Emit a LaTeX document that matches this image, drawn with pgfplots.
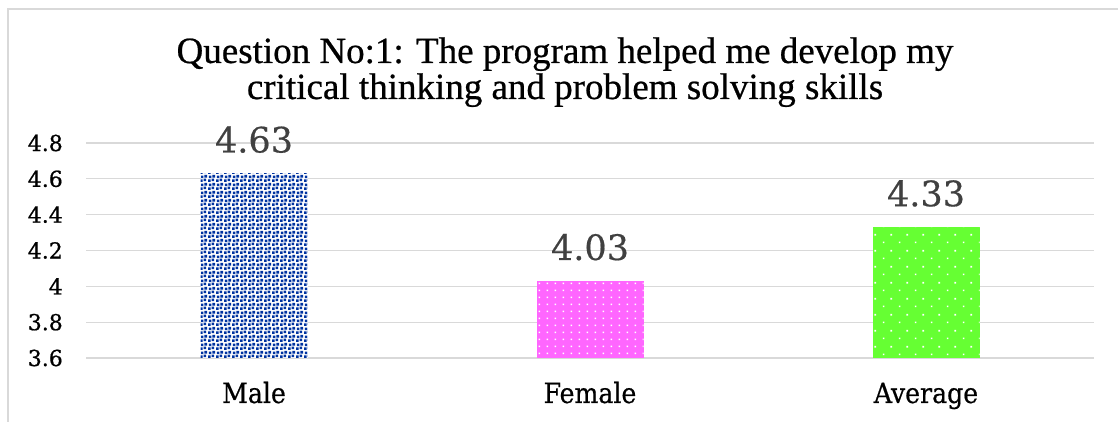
\documentclass[border=0pt]{standalone}
\usepackage{fontspec}
\setmainfont{DejaVu Serif}
\newfontfamily\titlefont[FakeBold=0.6]{Liberation Serif}
\newfontfamily\condfont[FakeBold=0.6]{DejaVu Serif Condensed}
\newfontfamily\tickfont[FakeBold=0.8]{DejaVu Serif}
\newfontfamily\datafont[FakeBold=0.5]{DejaVu Serif}
\usepackage{pgfplots}
\pgfplotsset{compat=1.18}
\usetikzlibrary{patterns.meta}
\definecolor{gridgray}{HTML}{D9D9D9}
\definecolor{maleblue}{HTML}{0033A0}
\definecolor{femmag}{HTML}{FF66FF}
\definecolor{avggreen}{HTML}{66FF33}
\definecolor{labgray}{HTML}{404040}
\tikzdeclarepattern{name=bluesq, type=uncolored,
  bounding box={(0pt,0pt) and (8pt,8pt)}, tile size={(8pt,8pt)},
  code={
    \fill (0pt,0pt) rectangle (2.9pt,2.9pt);
    \fill (4pt,1pt) rectangle (6.9pt,3.9pt);
    \fill (1pt,4.2pt) rectangle (3.9pt,7.1pt);
    \fill (5pt,5pt) rectangle (7.9pt,7.9pt);
  }}
\tikzdeclarepattern{name=magdots, type=uncolored,
  bounding box={(0pt,0pt) and (8pt,7.3pt)}, tile size={(8pt,7.3pt)},
  code={\fill (3pt,3pt) rectangle (4.7pt,4.7pt);}}
\tikzdeclarepattern{name=grndots, type=uncolored,
  bounding box={(0pt,0pt) and (16pt,16pt)}, tile size={(16pt,16pt)},
  code={\fill (3pt,3pt) rectangle (4.7pt,4.7pt);
        \fill (11pt,11pt) rectangle (12.7pt,12.7pt);}}
\begin{document}
\begin{tikzpicture}[x=1pt,y=1pt]
\useasboundingbox (0,0) rectangle (1118,422);
\fill[white] (0,0) rectangle (1118,422);
\draw[gridgray, line width=1.2pt] (8,-5) rectangle (1130,413);
\node[anchor=base, inner sep=0pt, font=\titlefont\fontsize{37}{37}\selectfont] at (565,359) {Question No:1: The program helped me develop my};
\node[anchor=base, inner sep=0pt, font=\titlefont\fontsize{37}{37}\selectfont] at (565,323) {critical thinking and problem solving skills};
\begin{axis}[
  at={(86pt,64pt)}, anchor=south west,
  scale only axis, width=1008pt, height=215pt,
  xmin=-0.5, xmax=2.5, ymin=3.6, ymax=4.8,
  ytick={3.6,3.8,4,4.2,4.4,4.6,4.8},
  xtick={0,1,2}, xticklabels={Male,Female,Average},
  axis x line*=bottom, axis y line*=left,
  y axis line style={draw=none},
  x axis line style={gridgray, line width=1.5pt},
  major tick length=0pt,
  ymajorgrids, grid style={gridgray, line width=1.2pt},
  /pgf/number format/assume math mode=true,
  yticklabel style={font=\tickfont\fontsize{22}{22}\selectfont, inner sep=0pt, anchor=east, xshift=-23pt},
  xticklabel style={font=\condfont\fontsize{28}{28}\selectfont, inner sep=0pt, anchor=base, yshift=-45pt},
  ybar, bar width=107pt, bar shift=0pt,
  nodes near coords={\pgfmathprintnumber[assume math mode=true,fixed,precision=2,fixed zerofill]{\pgfplotspointmeta}},
  nodes near coords style={font=\datafont\fontsize{35}{35}\selectfont, text=labgray, anchor=base, inner sep=0pt, yshift=21pt},
  clip=false,
]
\addplot[draw=none, fill=white, postaction={pattern={bluesq}, pattern color=maleblue}] coordinates {(0,4.63)};
\addplot[draw=none, fill=femmag, postaction={pattern={magdots}, pattern color=white}] coordinates {(1,4.03)};
\addplot[draw=none, fill=avggreen, postaction={pattern={grndots}, pattern color=white}] coordinates {(2,4.33)};
\end{axis}
\end{tikzpicture}
\end{document}
